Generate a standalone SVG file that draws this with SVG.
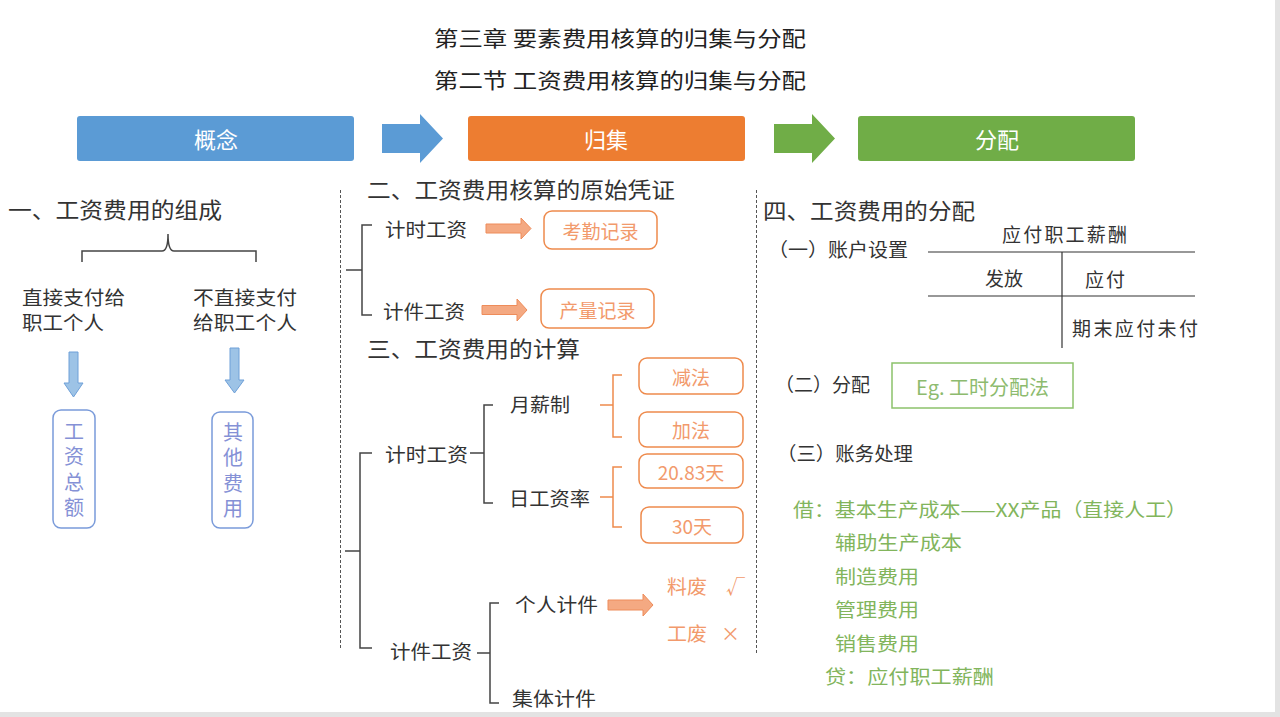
<svg xmlns="http://www.w3.org/2000/svg" width="1280" height="717" viewBox="0 0 1280 717">
<style>
text{font-family:"Noto Sans CJK SC","Noto Sans",sans-serif;}
.t{fill:#222;font-size:21px;}
.h{fill:#333;font-size:22px;}
.k{fill:#333;font-size:19px;dominant-baseline:central;}
.w{fill:#fff;font-size:22px;text-anchor:middle;dominant-baseline:central;}
.o{fill:#F29A6C;font-size:19px;dominant-baseline:central;}
.oc{fill:#F29A6C;font-size:19px;text-anchor:middle;dominant-baseline:central;}
.bl{fill:#8591D6;font-size:20px;writing-mode:vertical-rl;letter-spacing:5.5px;}
.g{fill:#82B55C;font-size:19px;dominant-baseline:central;}
.br{fill:none;stroke:#444;stroke-width:1.5;}
.obr{fill:none;stroke:#EE8A4C;stroke-width:1.5;}
.ob{fill:#fff;stroke:#EE8A4C;stroke-width:1.5;}
.vb{fill:#fff;stroke:#7A9BDA;stroke-width:1.5;}
.oa{fill:#F4A982;stroke:#EE8C5A;stroke-width:1;}
.da{fill:#9DC3E6;stroke:#6FA0D8;stroke-width:1;}
.dash{stroke:#555;stroke-width:1;stroke-dasharray:3,2;}
.tl{stroke:#333;stroke-width:1.2;}
</style>
<rect width="1280" height="717" fill="#fff"/>
<rect x="1275" y="0" width="5" height="717" fill="#e3e3e3"/>
<rect x="0" y="712" width="1280" height="5" fill="#e3e3e3"/>

<g id="titles">
<text class="t" x="434" y="46" textLength="372" lengthAdjust="spacingAndGlyphs">第三章 要素费用核算的归集与分配</text>
<text class="t" x="434" y="88" textLength="372" lengthAdjust="spacingAndGlyphs">第二节 工资费用核算的归集与分配</text>
</g>

<g id="header">
<g id="node-gainian"><rect x="77" y="116" width="277" height="45" rx="3" fill="#5B9BD5"/><text class="w" x="216" y="138">概念</text></g>
<g id="node-guiji"><rect x="468" y="116" width="277" height="45" rx="3" fill="#ED7D31"/><text class="w" x="606" y="138">归集</text></g>
<g id="node-fenpei"><rect x="858" y="116" width="277" height="45" rx="3" fill="#70AD47"/><text class="w" x="997" y="138">分配</text></g>
</g>

<g id="connectors">
<polygon points="382,124 420,124 420,114 443,138.5 420,163 420,153 382,153" fill="#5B9BD5"/>
<polygon points="774,124 812,124 812,114 835,138.5 812,163 812,153 774,153" fill="#70AD47"/>
<polygon class="da" points="69,352 78,352 78,383 83,383 73.5,397 64,383 69,383"/>
<polygon class="da" points="230,348 239,348 239,380 244,380 234.5,393 225,380 230,380"/>
<polygon class="oa" points="486,224 521,224 521,218 531,228.5 521,239 521,233 486,233"/>
<polygon class="oa" points="482,305.5 517,305.5 517,299 527,310 517,321 517,314.5 482,314.5"/>
<polygon class="oa" points="608,600 643,600 643,594 653,605 643,616 643,610 608,610"/>
<path class="br" d="M82,262 V251 H162 Q168,251 168,234 Q168,251 174,251 H256 V262"/>
<path class="br" d="M372,225 H362 V315 H372 M346,270 H362"/>
<path class="br" d="M372,453 H360 V648 H372 M345,551 H360"/>
<path class="br" d="M493,405 H484 V503 H493 M470,453 H484"/>
<path class="br" d="M499,603 H490 V703 H499 M477,653 H490"/>
<path class="obr" d="M622,375 H613 V437 H622 M600,405 H613"/>
<path class="obr" d="M622,467 H613 V527 H622 M600,497 H613"/>
<line class="dash" x1="340.5" y1="190" x2="340.5" y2="648"/>
<line class="dash" x1="756.5" y1="190" x2="756.5" y2="654"/>
</g>

<g id="sec1">
<text class="h" x="8" y="218" textLength="214" lengthAdjust="spacingAndGlyphs">一、工资费用的组成</text>
<text class="k" x="22" y="296" textLength="103" lengthAdjust="spacingAndGlyphs">直接支付给</text>
<text class="k" x="22" y="321" textLength="82" lengthAdjust="spacingAndGlyphs">职工个人</text>
<text class="k" x="193" y="296" textLength="104" lengthAdjust="spacingAndGlyphs">不直接支付</text>
<text class="k" x="193" y="321" textLength="104" lengthAdjust="spacingAndGlyphs">给职工个人</text>
<g id="node-gongzi"><rect class="vb" x="53" y="410" width="42" height="118" rx="8"/>
<text class="bl" x="74" y="421">工资总额</text></g>
<g id="node-qita"><rect class="vb" x="212" y="412" width="41" height="116" rx="8"/>
<text class="bl" x="233" y="422">其他费用</text></g>
</g>

<g id="sec2">
<text class="h" x="367" y="198" textLength="308" lengthAdjust="spacingAndGlyphs">二、工资费用核算的原始凭证</text>
<text class="k" x="385" y="228" textLength="82" lengthAdjust="spacingAndGlyphs">计时工资</text>
<text class="k" x="383" y="310" textLength="82" lengthAdjust="spacingAndGlyphs">计件工资</text>
<g id="node-kaoqin"><rect class="ob" x="544" y="211" width="113" height="38" rx="8"/><text class="oc" x="600.5" y="230">考勤记录</text></g>
<g id="node-chanliang"><rect class="ob" x="541" y="289" width="113" height="39" rx="8"/><text class="oc" x="597.5" y="309">产量记录</text></g>
</g>

<g id="sec3">
<text class="h" x="367" y="357" textLength="213" lengthAdjust="spacingAndGlyphs">三、工资费用的计算</text>
<text class="k" x="385" y="453" textLength="83" lengthAdjust="spacingAndGlyphs">计时工资</text>
<text class="k" x="510" y="403" textLength="60" lengthAdjust="spacingAndGlyphs">月薪制</text>
<text class="k" x="509" y="497" textLength="81" lengthAdjust="spacingAndGlyphs">日工资率</text>
<g id="node-jianfa"><rect class="ob" x="639" y="358" width="104" height="36" rx="8"/><text class="oc" x="691" y="376">减法</text></g>
<g id="node-jiafa"><rect class="ob" x="639" y="412" width="104" height="35" rx="8"/><text class="oc" x="691" y="429.5">加法</text></g>
<g id="node-2083"><rect class="ob" x="639" y="454" width="104" height="34" rx="8"/><text class="oc" x="691" y="471">20.83天</text></g>
<g id="node-30"><rect class="ob" x="641" y="507" width="102" height="36" rx="8"/><text class="oc" x="692" y="525">30天</text></g>
<text class="k" x="390" y="650" textLength="82" lengthAdjust="spacingAndGlyphs">计件工资</text>
<text class="k" x="515" y="603" textLength="83" lengthAdjust="spacingAndGlyphs">个人计件</text>
<text class="k" x="512" y="697" textLength="84" lengthAdjust="spacingAndGlyphs">集体计件</text>
<text class="o" x="667" y="585" textLength="40" lengthAdjust="spacingAndGlyphs">料废</text>
<text class="o" x="726" y="585">√</text>
<text class="o" x="667" y="632" textLength="40" lengthAdjust="spacingAndGlyphs">工废</text>
<text class="o" x="721" y="632">×</text>
</g>

<g id="sec4">
<text class="h" x="763" y="219" textLength="212" lengthAdjust="spacingAndGlyphs">四、工资费用的分配</text>
<text class="k" x="768" y="248" textLength="140" lengthAdjust="spacingAndGlyphs">（一）账户设置</text>
<g id="t-account">
<text class="k" x="1002" y="233" textLength="125" lengthAdjust="spacing">应付职工薪酬</text>
<line class="tl" x1="928" y1="252" x2="1195" y2="252"/>
<line class="tl" x1="928" y1="296" x2="1195" y2="296"/>
<line class="tl" x1="1062" y1="252" x2="1062" y2="348"/>
<text class="k" x="985" y="277" textLength="38" lengthAdjust="spacing">发放</text>
<text class="k" x="1085" y="278" textLength="40" lengthAdjust="spacing">应付</text>
<text class="k" x="1072" y="327" textLength="126" lengthAdjust="spacing">期末应付未付</text>
</g>
<text class="k" x="775" y="383" textLength="95" lengthAdjust="spacingAndGlyphs">（二）分配</text>
<g id="node-eg"><rect x="892" y="363" width="181" height="45" fill="#fff" stroke="#8CC26B" stroke-width="1.5"/>
<text x="982.5" y="386" font-size="20" fill="#8DBB6E" text-anchor="middle" dominant-baseline="central">Eg. 工时分配法</text></g>
<text class="k" x="777" y="452" textLength="136" lengthAdjust="spacingAndGlyphs">（三）账务处理</text>
<text class="g" x="793" y="508" textLength="394" lengthAdjust="spacingAndGlyphs">借：基本生产成本——XX产品（直接人工）</text>
<text class="g" x="835" y="541" textLength="127" lengthAdjust="spacingAndGlyphs">辅助生产成本</text>
<text class="g" x="835" y="575" textLength="84" lengthAdjust="spacingAndGlyphs">制造费用</text>
<text class="g" x="835" y="608" textLength="84" lengthAdjust="spacingAndGlyphs">管理费用</text>
<text class="g" x="835" y="642" textLength="84" lengthAdjust="spacingAndGlyphs">销售费用</text>
<text class="g" x="825" y="675" textLength="169" lengthAdjust="spacingAndGlyphs">贷：应付职工薪酬</text>
</g>
</svg>
